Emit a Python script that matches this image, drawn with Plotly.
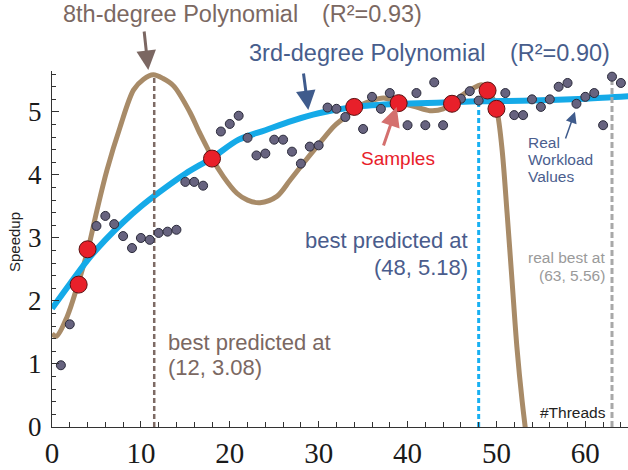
import plotly.graph_objects as go

# ---------------- data ----------------
threads = list(range(1, 65))
real_speedup = [0.98, 1.63, 2.26, 2.82, 3.19, 3.35, 3.22, 3.03, 2.84, 3.00,
                2.97, 3.08, 3.10, 3.13, 3.89, 3.89, 3.83, 4.26, 4.69, 4.81,
                4.94, 4.59, 4.31, 4.34, 4.56, 4.56, 4.37, 4.18, 4.45, 4.47,
                5.07, 5.05, 4.92, 5.08, 4.73, 5.24, 5.05, 5.30, 5.14, 4.79,
                5.30, 4.79, 5.47, 4.79, 5.13, 5.21, 5.33, 5.18, 5.34, 5.05,
                5.30, 4.95, 4.95, 5.20, 5.08, 5.20, 5.40, 5.46, 5.13, 5.24,
                5.30, 4.79, 5.56, 5.46]

sample_x = [3, 4, 18, 34, 39, 45, 49, 50]
sample_y = [2.26, 2.82, 4.26, 5.08, 5.14, 5.13, 5.34, 5.05]

# 3rd-degree polynomial curve
poly3_x = [0, 2, 4, 6, 8, 10, 12, 15, 18, 21, 24, 27, 30, 34, 39, 44, 48, 54, 60, 65]
poly3_y = [1.88, 2.27, 2.65, 2.97, 3.25, 3.50, 3.72, 4.02, 4.27, 4.56, 4.71, 4.86,
           4.98, 5.08, 5.13, 5.15, 5.17, 5.18, 5.21, 5.25]

# 8th-degree polynomial curve
poly8_x = [0, 0.5, 1.7, 2.9, 4.05, 5.06, 6.19, 7.68, 9.18, 10.3, 11.4, 12.5, 13.7,
           15.5, 16.5, 17.5, 18.0, 19.3, 20.8, 22.0, 23.4, 25.3, 26.8, 28.3, 29.8,
           31.7, 32.8, 34.1, 36.0, 37.3, 39.0, 40.7, 42.5, 44.0, 45.0, 47.05, 48.4,
           49.1, 50.0, 50.6, 51.2, 51.75, 52.3, 52.9, 53.5]
poly8_y = [1.48, 1.44, 1.75, 2.26, 2.82, 3.44, 4.08, 4.77, 5.35, 5.52, 5.59, 5.53, 5.41,
           5.00, 4.70, 4.42, 4.27, 3.97, 3.71, 3.60, 3.56, 3.66, 3.92, 4.19, 4.45,
           4.77, 4.90, 5.06, 5.18, 5.22, 5.15, 5.09, 5.02, 5.05, 5.15, 5.35, 5.43,
           5.34, 5.05, 4.45, 3.39, 2.33, 1.27, 0.40, -0.30]

# vertical marker lines: poly8 best, poly3 best, real best
vline_x = [11.5, 48, 63]
vline_top = [5.57, 5.15, 5.49]

x_range = [0, 64.8]
y_range = [0, 5.65]

# ---------------- figure ----------------
BROWN = "#a88b68"
BLUE = "#15aae8"
TXT_BROWN = "#7b6862"
TXT_BLUE = "#475d8c"

fig = go.Figure()

fig.add_trace(go.Scatter(x=poly8_x, y=poly8_y, mode="lines",
                         line=dict(color=BROWN, width=5, shape="spline", smoothing=0.9),
                         hoverinfo="skip"))
fig.add_trace(go.Scatter(x=poly3_x, y=poly3_y, mode="lines",
                         line=dict(color=BLUE, width=6, shape="spline", smoothing=0.9),
                         hoverinfo="skip"))

vstyles = [dict(color="#7d6a64", width=2.5, dash="5px,3px"),
           dict(color="#18b0f2", width=3, dash="5px,3px"),
           dict(color="#a8a8a8", width=3, dash="6px,3px")]
for vx, vt, st in zip(vline_x, vline_top, vstyles):
    fig.add_trace(go.Scatter(x=[vx, vx], y=[0, vt], mode="lines", line=st,
                             hoverinfo="skip"))

fig.add_trace(go.Scatter(x=threads, y=real_speedup, mode="markers", cliponaxis=False,
                         marker=dict(size=9, color="#67637f",
                                     line=dict(color="#2a2a3a", width=1))))
fig.add_trace(go.Scatter(x=sample_x, y=sample_y, mode="markers", cliponaxis=False,
                         marker=dict(size=17, color="#e8202a",
                                     line=dict(color="#5a1010", width=1))))

L, T, W, H = 52, 71, 576, 356


def px(xp):
    return (xp - L) / W


def py(yp):
    return (T + H - yp) / H


SANS = "Liberation Sans, Arial, sans-serif"
ann = []


def text(s, xp, yp, size, color, xanchor="center", angle=0):
    ann.append(dict(text=s, x=px(xp), y=py(yp), xref="paper", yref="paper",
                    xanchor=xanchor, yanchor="middle", showarrow=False,
                    textangle=angle,
                    font=dict(family=SANS, size=size, color=color)))


def arrow(tipx, tipy, tailx, taily, color, width, size):
    ann.append(dict(text="", x=px(tipx), y=py(tipy), xref="paper", yref="paper",
                    ax=tailx - tipx, ay=taily - tipy, axref="pixel", ayref="pixel",
                    showarrow=True, arrowhead=2, arrowsize=size, arrowwidth=width,
                    arrowcolor=color, standoff=0))


text("8th-degree Polynomial", 180.5, 14, 23.5, TXT_BROWN)
text("(R²=0.93)", 371.7, 14, 23.5, TXT_BROWN)
text("3rd-degree Polynomial", 366.5, 53, 23.5, TXT_BLUE)
text("(R²=0.90)", 559.5, 53, 23.5, TXT_BLUE)
text("Samples", 398, 158, 19, "#e8202a")
text("Real", 526, 142, 15.5, "#4b5e8e", "left")
text("Workload", 526, 159, 15.5, "#4b5e8e", "left")
text("Values", 526, 176, 15.5, "#4b5e8e", "left")
text("best predicted at", 470, 240, 22, "#4a5c8c", "right")
text("(48, 5.18)", 470, 267, 22, "#4a5c8c", "right")
text("best predicted at", 165.5, 342, 22, TXT_BROWN, "left")
text("(12, 3.08)", 165.5, 367, 22, TXT_BROWN, "left")
text("real best at", 607, 257, 15.5, "#9a9a9a", "right")
text("(63, 5.56)", 607, 275, 15.5, "#9a9a9a", "right")
text("#Threads", 607.5, 412, 15.5, "#222222", "right")
text("Speedup", 14, 242, 15, "#222222", angle=-90)

arrow(148.3, 70, 144, 30, "#7b6762", 3, 1.3)
arrow(308.3, 110, 303.3, 72, "#3f5b8c", 3, 1.3)
arrow(396.7, 107, 383, 147, "#d4706e", 3, 1.3)
arrow(575, 111.7, 565, 140, "#3f5b8c", 1.5, 1.5)

SERIF = "Liberation Serif, Times New Roman, serif"
fig.update_layout(
    width=628, height=470,
    margin=dict(l=L, r=628 - L - W, t=T, b=470 - T - H, autoexpand=False),
    paper_bgcolor="white", plot_bgcolor="white",
    showlegend=False,
    annotations=ann,
    xaxis=dict(range=x_range, showgrid=False, zeroline=False, automargin=False,
               showline=True, linecolor="#333333", linewidth=1.2,
               ticks="inside", ticklen=6, tickwidth=1, tickcolor="#333333",
               tick0=0, dtick=10, ticklabelstandoff=0,
               minor=dict(dtick=2, ticks="inside", ticklen=5, tickcolor="#333333",
                          showgrid=False),
               tickfont=dict(family=SERIF, size=29, color="#1a1a1a")),
    yaxis=dict(range=y_range, showgrid=False, zeroline=False, automargin=False,
               showline=True, linecolor="#333333", linewidth=1.2,
               ticks="inside", ticklen=7, tickwidth=1, tickcolor="#333333",
               tick0=0, dtick=1, ticklabelstandoff=4,
               minor=dict(dtick=0.2, ticks="inside", ticklen=4, tickcolor="#333333",
                          showgrid=False),
               tickfont=dict(family=SERIF, size=27, color="#1a1a1a")),
)

fig.write_html("out.html", config={"displayModeBar": False},
               post_script="document.body.style.margin='0';document.body.style.padding='0';")
